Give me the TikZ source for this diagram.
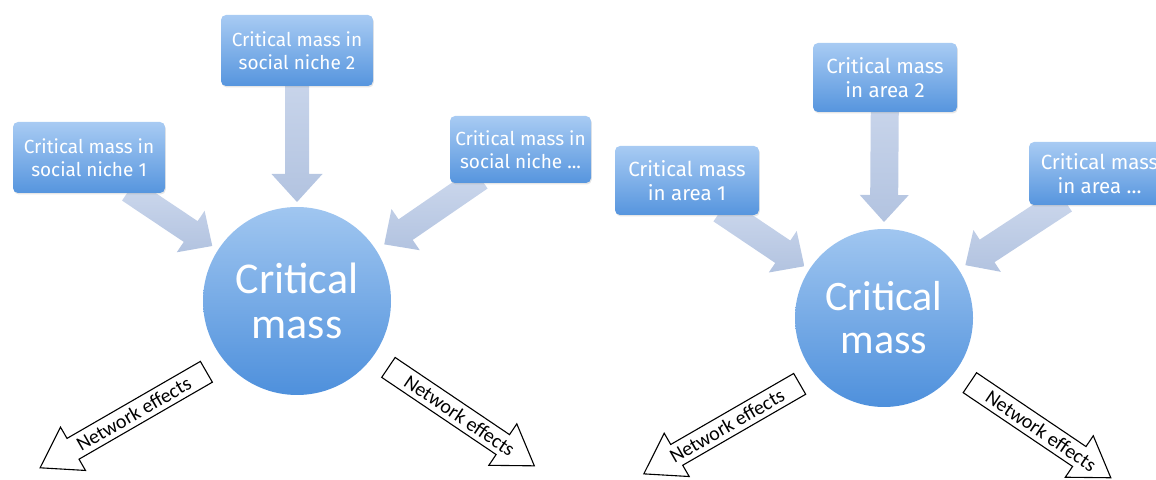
\documentclass[tikz,border=0pt]{standalone}
\usepackage{fontspec}
\setmainfont{Carlito}
\newfontfamily\boxfont{Fira Sans}
\usetikzlibrary{calc,shadows}

\definecolor{boxtop}{RGB}{168,203,243}
\definecolor{boxbot}{RGB}{86,149,222}
\definecolor{disctop}{RGB}{160,198,240}
\definecolor{discbot}{RGB}{78,144,220}
\definecolor{feedtop}{RGB}{206,217,237}
\definecolor{feedbot}{RGB}{178,195,224}

\pgfdeclarelayer{bg}
\pgfsetlayers{bg,main}

% block arrow: options, from, to, shaft half width, head half width, head length
\newcommand{\fatarrow}[6]{%
  \coordinate (fa-neck) at ($(#3)!#6!(#2)$);
  \path[#1] ($(#2)!#4!90:(#3)$) -- ($(fa-neck)!#4!90:(#3)$)
    -- ($(fa-neck)!#5!90:(#3)$) -- (#3) -- ($(fa-neck)!#5!-90:(#3)$)
    -- ($(fa-neck)!#4!-90:(#3)$) -- ($(#2)!#4!-90:(#3)$) -- cycle;
}

\tikzset{
  niche/.style={rounded corners=5pt, top color=boxtop, bottom color=boxbot,
    text=white, align=center, inner sep=0pt,
    font={\boxfont\fontsize{19}{23}\selectfont},
    drop shadow={opacity=0.2, shadow xshift=0.8pt, shadow yshift=-1.5pt}},
  area/.style={niche, font={\boxfont\fontsize{20.5}{24}\selectfont}},
  disc/.style={circle, top color=disctop, bottom color=discbot, text=white,
    align=center, inner sep=0pt},
  feed/.style={top color=feedtop, bottom color=feedbot},
  effect/.style={draw=black, fill=white, line width=1.1pt, line join=miter},
  effectlabel/.style={font={\fontsize{20}{22}\selectfont}, inner sep=0pt}
}

\begin{document}
\begin{tikzpicture}[x=1pt,y=1pt]
\useasboundingbox (0,0) rectangle (1156,479);

% ---------- social niches ----------
\node[niche, minimum width=152pt, minimum height=71pt] (b1) at (89,321.5)
  {Critical mass in\\social niche 1};
\node[niche, minimum width=152pt, minimum height=71pt] (b2) at (297,428.5)
  {Critical mass in\\social niche 2};
\node[niche, minimum width=141pt, minimum height=67pt] (b3) at (520.5,329.5)
  {Critical mass in\\social niche ...};
\node[disc, minimum size=188pt, font={\fontsize{44}{45}\selectfont}] (c1) at (297,178)
  {Critical\\mass};

\coordinate (f1s) at ($(b1.south)+(40,3)$);
\coordinate (f1e) at ($(c1.center)+(147:101pt)$);
\coordinate (f2s) at (b2.center);
\coordinate (f2e) at ($(c1.center)+(90:99pt)$);
\coordinate (f3s) at ($(b3.south)+(-40,5)$);
\coordinate (f3e) at ($(c1.center)+(33:104pt)$);

\begin{pgfonlayer}{bg}
  \fatarrow{feed}{f1s}{f1e}{12.5pt}{25pt}{26pt}
  \fatarrow{feed}{f2s}{f2e}{12pt}{25.5pt}{28pt}
  \fatarrow{feed}{f3s}{f3e}{12.5pt}{25pt}{26pt}
\end{pgfonlayer}

\coordinate (n1s) at ($(c1.center)+(218:115pt)$);
\coordinate (n1e) at ($(n1s)+(210:192pt)$);
\coordinate (n2s) at ($(c1.center)+(-36:113pt)$);
\coordinate (n2e) at ($(n2s)+(-34:176pt)$);
\fatarrow{effect}{n1s}{n1e}{12pt}{25pt}{38pt}
\fatarrow{effect}{n2s}{n2e}{12pt}{25pt}{38pt}
\node[effectlabel, rotate=30] (t1) at ($(n1s)!84pt!(n1e)$) {Network effects};
\node[effectlabel, rotate=-34] (t2) at ($(n2s)!86pt!(n2e)$) {Network effects};

% ---------- areas ----------
\node[area, minimum width=144pt, minimum height=69pt] (a1) at (687,298.5)
  {Critical mass\\in area 1};
\node[area, minimum width=144pt, minimum height=69pt] (a2) at (885,401.5)
  {Critical mass\\in area 2};
\node[area, minimum width=141pt, minimum height=63pt] (a3) at (1099.5,305.5)
  {Critical mass\\in area ...};
\node[disc, minimum size=178pt, font={\fontsize{42}{43}\selectfont}] (c2) at (884,161)
  {Critical\\mass};

\coordinate (g1s) at ($(a1.south)+(34,5)$);
\coordinate (g1e) at ($(c2.center)+(147:95pt)$);
\coordinate (g2s) at (a2.center);
\coordinate (g2e) at ($(c2.center)+(90:96pt)$);
\coordinate (g3s) at ($(a3.south)+(-35,5)$);
\coordinate (g3e) at ($(c2.center)+(33:97pt)$);

\begin{pgfonlayer}{bg}
  \fatarrow{feed}{g1s}{g1e}{13.5pt}{25pt}{26pt}
  \fatarrow{feed}{g2s}{g2e}{14pt}{24.5pt}{27pt}
  \fatarrow{feed}{g3s}{g3e}{13.5pt}{25pt}{26pt}
\end{pgfonlayer}

\coordinate (m1s) at ($(c2.center)+(218:107pt)$);
\coordinate (m1e) at ($(m1s)+(210:180pt)$);
\coordinate (m2s) at ($(c2.center)+(-37:107.5pt)$);
\coordinate (m2e) at ($(m2s)+(-34:170pt)$);
\fatarrow{effect}{m1s}{m1e}{12pt}{25pt}{38pt}
\fatarrow{effect}{m2s}{m2e}{12pt}{25pt}{38pt}
\node[effectlabel, rotate=30] (t3) at ($(m1s)!84pt!(m1e)$) {Network effects};
\node[effectlabel, rotate=-34] (t4) at ($(m2s)!86pt!(m2e)$) {Network effects};
\end{tikzpicture}
\end{document}
